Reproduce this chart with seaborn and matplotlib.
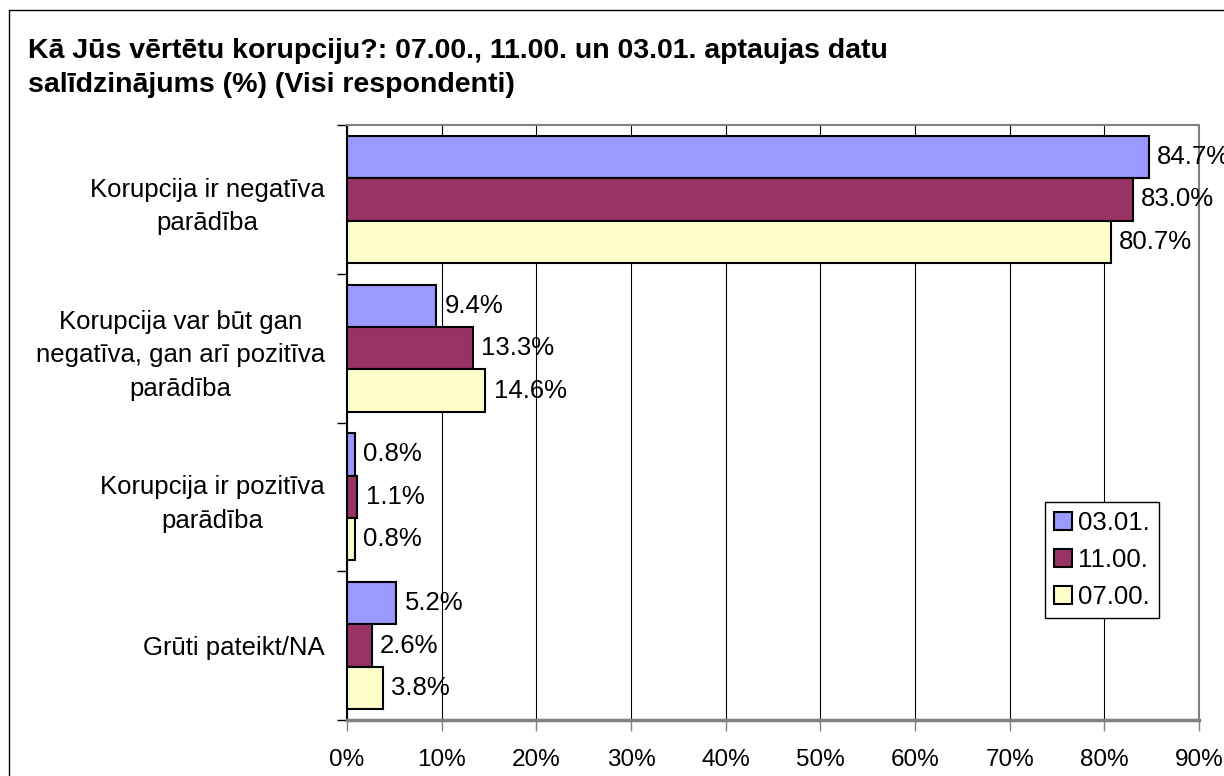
import pandas as pd
import numpy as np
import matplotlib
matplotlib.use("Agg")
import matplotlib.pyplot as plt
from matplotlib.lines import Line2D
from matplotlib.ticker import FuncFormatter, FixedLocator
import seaborn as sns

# data (percent)
categories = ["Korupcija ir negatīva\nparādība",
              "Korupcija var būt gan\nnegatīva, gan arī pozitīva\nparādība",
              "Korupcija ir pozitīva\nparādība",
              "Grūti pateikt/NA"]
waves = ["03.01.", "11.00.", "07.00."]
vals_0301 = [84.7, 9.4, 0.8, 5.2]
vals_1100 = [83.0, 13.3, 1.1, 2.6]
vals_0700 = [80.7, 14.6, 0.8, 3.8]
colors = ["#9999FF", "#993366", "#FFFFCC"]

df = pd.DataFrame({
    "kategorija": categories * 3,
    "aptauja": [w for w in waves for _ in categories],
    "vertiba": vals_0301 + vals_1100 + vals_0700,
})

sns.set_style("white")
plt.rcParams["font.family"] = ["Liberation Sans", "DejaVu Sans"]
plt.rcParams["text.color"] = "black"
plt.rcParams["xtick.labelcolor"] = "black"
plt.rcParams["ytick.labelcolor"] = "black"
fs = 18.5

fig = plt.figure(figsize=(12.24, 7.76), dpi=100)
ax = fig.add_axes([347 / 1224, 1 - 720 / 776, 852 / 1224, 595 / 776])

sns.barplot(data=df, y="kategorija", x="vertiba", hue="aptauja",
            hue_order=waves, palette=colors, orient="h", width=0.855,
            edgecolor="black", linewidth=1.5, saturation=1, ax=ax,
            errorbar=None, zorder=3)

# value labels
for cont, w in zip(ax.containers, [vals_0301, vals_1100, vals_0700]):
    ax.bar_label(cont, labels=[f"{v:.1f}%" for v in w], padding=6,
                 fontsize=fs, color="black")

ax.set_xlim(0, 90)
ax.set_ylim(3.5, -0.5)
ax.set_xticks(np.arange(0, 91, 10))
ax.xaxis.set_major_formatter(FuncFormatter(lambda x, p: f"{x:.0f}%"))
ax.xaxis.grid(True, color="black", linewidth=0.8, zorder=0)
ax.set_axisbelow(True)
ax.set_xlabel("")
ax.set_ylabel("")

ax.tick_params(axis="x", direction="out", length=8, width=1, color="#808080",
               labelsize=17.5, labelcolor="black", pad=13, bottom=True)
ax.tick_params(axis="y", which="major", length=0, labelsize=fs,
               labelcolor="black", pad=16)
ax.yaxis.set_minor_locator(FixedLocator([-0.5, 0.5, 1.5, 2.5, 3.5]))
ax.tick_params(axis="y", which="minor", direction="out", length=7, width=1,
               color="black", left=True)
for lab in ax.get_yticklabels():
    lab.set_multialignment("center")
    lab.set_linespacing(1.5)

for side in ["top", "right"]:
    ax.spines[side].set_visible(True)
    ax.spines[side].set_color("#808080")
    ax.spines[side].set_linewidth(1.5)
ax.spines["bottom"].set_color("#808080")
ax.spines["bottom"].set_linewidth(2.5)
ax.spines["left"].set_color("black")
ax.spines["left"].set_linewidth(1.5)

leg = ax.legend(loc="upper left", bbox_to_anchor=(1045 / 1224, 1 - 502 / 776),
                bbox_transform=fig.transFigure, fontsize=fs, frameon=True,
                fancybox=False, edgecolor="black", framealpha=1,
                handlelength=0.7, handleheight=0.7, handletextpad=0.25,
                labelspacing=0.5, borderpad=0.35, borderaxespad=0)
leg.get_frame().set_linewidth(1)
for t in leg.get_texts():
    t.set_color("black")

# title, two lines
fig.text(28 / 1224, 1 - 58 / 776,
         "Kā Jūs vērtētu korupciju?: 07.00., 11.00. un 03.01. aptaujas datu",
         fontsize=20.5, fontweight="bold", va="baseline", ha="left",
         color="black")
fig.text(28 / 1224, 1 - 92 / 776,
         "salīdzinājums (%) (Visi respondenti)",
         fontsize=20.5, fontweight="bold", va="baseline", ha="left",
         color="black")

# outer chart border (left and top visible)
fig.add_artist(Line2D([9 / 1224, 9 / 1224], [0, 1 - 10 / 776], color="black",
                      linewidth=1, transform=fig.transFigure))
fig.add_artist(Line2D([9 / 1224, 1], [1 - 10 / 776, 1 - 10 / 776], color="black",
                      linewidth=1, transform=fig.transFigure))

fig.savefig("out.png", dpi=100)
